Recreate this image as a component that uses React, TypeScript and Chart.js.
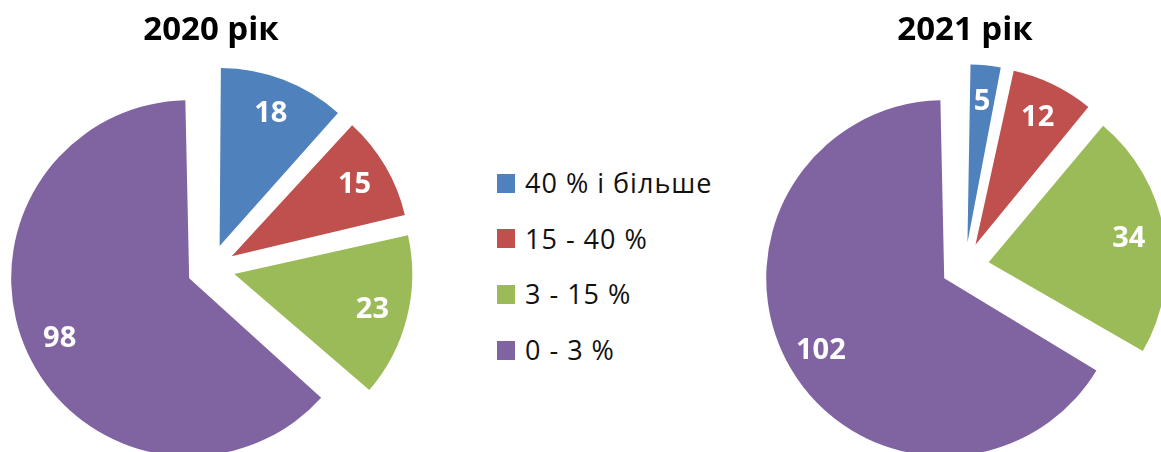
import React, { useEffect, useRef } from "react";
import { Chart, registerables } from "chart.js";

Chart.register(...registerables);

const categories = ["40 % і більше", "15 - 40 %", "3 - 15 %", "0 - 3 %"];
const values2020 = [18, 15, 23, 98];
const values2021 = [5, 12, 34, 102];
const titles = ["2020 рік", "2021 рік"];
const colors = ["#4F81BD", "#C0504D", "#9BBB59", "#8064A2"];

const FONT = "'Open Sans', 'Noto Sans', sans-serif";
const EXPLODE = 24;
const RADIUS = 178;
const LABEL_DIST = 0.8;

const radiusFix = {
  id: "radiusFix",
  beforeDatasetsDraw(chart: any) {
    const meta = chart.getDatasetMeta(0);
    const base = meta.controller.outerRadius;
    meta.data.forEach((arc: any) => {
      const off = (arc.options.offset || 0) / 4;
      const fix = 1 - Math.sin(Math.min(Math.PI, arc.circumference || 0));
      arc.outerRadius = base - off * fix;
    });
  },
};

const sliceLabels = {
  id: "sliceLabels",
  afterDatasetsDraw(chart: any) {
    const meta = chart.getDatasetMeta(0);
    const data = chart.data.datasets[0].data;
    const ctx = chart.ctx;
    ctx.save();
    ctx.fillStyle = "#ffffff";
    ctx.font = `bold 29px ${FONT}`;
    ctx.textAlign = "center";
    ctx.textBaseline = "middle";
    meta.data.forEach((arc: any, i: number) => {
      const mid = (arc.startAngle + arc.endAngle) / 2;
      const d = EXPLODE + LABEL_DIST * RADIUS;
      ctx.fillText(String(data[i]), arc.x + Math.cos(mid) * d, arc.y + Math.sin(mid) * d + 1);
    });
    ctx.restore();
  },
};

function PieChart(props: { values: number[]; title: string; left: number; width: number; height: number }) {
  const ref = useRef<HTMLCanvasElement>(null);
  useEffect(() => {
    const chart = new Chart(ref.current as HTMLCanvasElement, {
      type: "pie",
      data: {
        labels: categories,
        datasets: [
          {
            data: props.values,
            backgroundColor: colors,
            borderWidth: 0,
            offset: EXPLODE * 4,
            hoverOffset: 0,
            radius: RADIUS,
            clip: false,
          } as any,
        ],
      },
      options: {
        responsive: false,
        animation: false,
        devicePixelRatio: 1,
        events: [],
        layout: { padding: 0 },
        plugins: {
          legend: { display: false },
          tooltip: { enabled: false },
          title: {
            display: true,
            text: props.title,
            color: "#000000",
            font: { family: FONT, size: 33, weight: "bold", lineHeight: 1.2 },
            padding: { top: 11, bottom: 0 },
          },
        },
      } as any,
      plugins: [radiusFix, sliceLabels],
    });
    return () => chart.destroy();
  }, []);
  return (
    <canvas
      ref={ref}
      width={props.width}
      height={props.height}
      style={{ position: "absolute", left: props.left, top: 0, width: props.width, height: props.height }}
    />
  );
}

export default function App() {
  return (
    <div
      style={{
        position: "absolute",
        left: 0,
        top: 0,
        width: 1161,
        height: 452,
        overflow: "hidden",
        background: "#ffffff",
      }}
    >
      <PieChart values={values2020} title={titles[0]} left={0} width={422} height={486} />
      <PieChart values={values2021} title={titles[1]} left={745} width={440} height={482} />
      <div style={{ position: "absolute", left: 497, top: 0 }}>
        {categories.map((c, i) => (
          <div
            key={c}
            style={{
              position: "absolute",
              left: 0,
              top: 183 + i * 55.7 - 20,
              height: 40,
              display: "flex",
              alignItems: "center",
              whiteSpace: "nowrap",
            }}
          >
            <span style={{ display: "inline-block", width: 18, height: 19, background: colors[i] }} />
            <span
              style={{
                marginLeft: 10,
                fontFamily: FONT,
                fontSize: 27,
                letterSpacing: 1,
                color: "#111111",
                lineHeight: "40px",
              }}
            >
              {c}
            </span>
          </div>
        ))}
      </div>
    </div>
  );
}
